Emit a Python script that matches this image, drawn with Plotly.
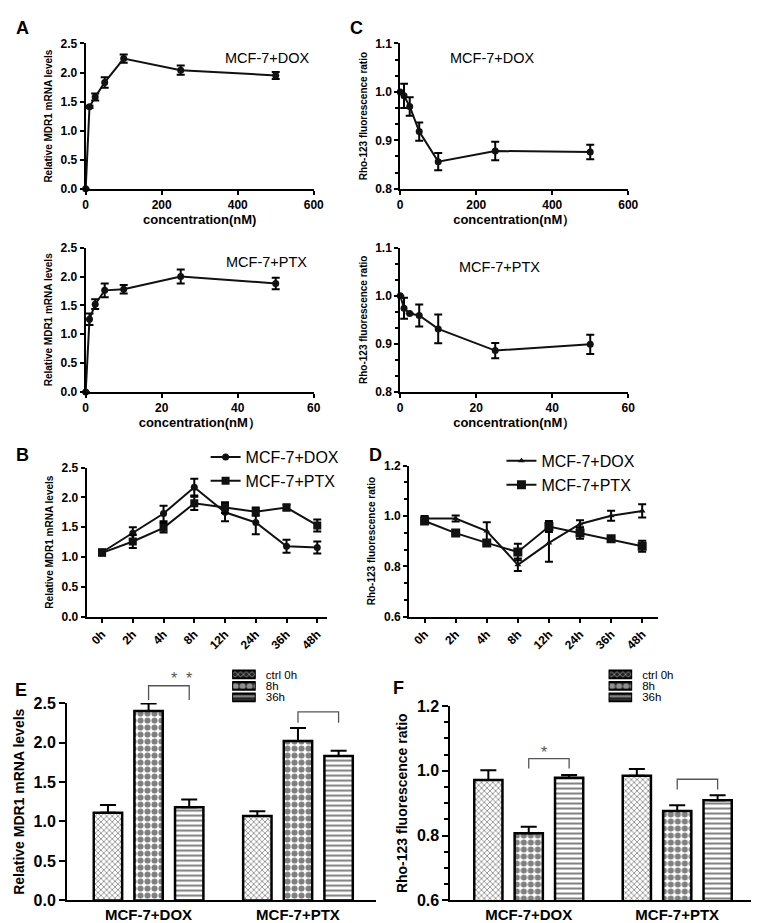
import plotly.graph_objects as go

# ===== data =====
conc_dox = [0, 10, 25, 50, 100, 250, 500]
conc_ptx = [0, 1, 2.5, 5, 10, 25, 50]

mdr1_dox = [0.0, 1.41, 1.58, 1.83, 2.24, 2.04, 1.95]
mdr1_dox_err = [0.0, 0.02, 0.06, 0.09, 0.07, 0.08, 0.06]
mdr1_ptx = [0.0, 1.26, 1.52, 1.76, 1.78, 2.00, 1.88]
mdr1_ptx_err = [0.0, 0.10, 0.085, 0.12, 0.075, 0.12, 0.10]

rho_dox = [1.0, 0.992, 0.970, 0.918, 0.856, 0.878, 0.876]
rho_dox_err = [0.0, 0.025, 0.019, 0.019, 0.018, 0.019, 0.015]
rho_ptx = [1.0, 0.974, 0.963, 0.959, 0.931, 0.886, 0.899]
rho_ptx_err = [0.0, 0.022, 0.0, 0.023, 0.030, 0.016, 0.020]

time_labels = ['0h', '2h', '4h', '8h', '12h', '24h', '36h', '48h']
t_mdr1_dox = [1.08, 1.40, 1.73, 2.17, 1.75, 1.58, 1.18, 1.16]
t_mdr1_dox_err = [0.05, 0.10, 0.13, 0.14, 0.15, 0.20, 0.11, 0.10]
t_mdr1_ptx = [1.07, 1.26, 1.49, 1.90, 1.83, 1.76, 1.83, 1.53]
t_mdr1_ptx_err = [0.04, 0.11, 0.08, 0.11, 0.09, 0.07, 0.05, 0.10]
t_rho_dox = [0.99, 0.99, 0.94, 0.806, 0.893, 0.968, 1.001, 1.02]
t_rho_dox_err = [0.01, 0.012, 0.035, 0.025, 0.075, 0.015, 0.02, 0.026]
t_rho_ptx = [0.98, 0.932, 0.893, 0.857, 0.958, 0.932, 0.909, 0.88]
t_rho_ptx_err = [0.01, 0.006, 0.008, 0.033, 0.022, 0.023, 0.006, 0.022]

groups = ['MCF-7+DOX', 'MCF-7+PTX']
bar_names = ['ctrl 0h', '8h', '36h']
bar_mdr1 = [[1.11, 1.07], [2.40, 2.02], [1.18, 1.83]]
bar_mdr1_err = [[0.10, 0.06], [0.095, 0.165], [0.10, 0.065]]
bar_rho = [[0.972, 0.985], [0.807, 0.876], [0.979, 0.909]]
bar_rho_err = [[0.03, 0.021], [0.02, 0.018], [0.008, 0.016]]

FONT = 'Liberation Sans'
W, H = 759, 923


def px_x(p):
    return p / W


def px_y(p):
    return 1 - p / H


def ax(**kw):
    base = dict(showline=True, linecolor='black', linewidth=2, ticks='outside',
                ticklen=4, tickwidth=2, tickcolor='black', showgrid=False,
                zeroline=False, mirror=False,
                tickfont=dict(family=FONT, size=12, color='black', weight='bold'))
    base.update(kw)
    return base


def title(text, size=10, standoff=6):
    return dict(text=text, standoff=standoff,
                font=dict(family=FONT, size=size, color='black', weight='bold'))


fig = go.Figure()

err = dict(type='data', color='black', thickness=2, width=4)

# ===== A / C : dose response =====
for xa, ya, xs, ys, es in [('x', 'y', conc_dox, mdr1_dox, mdr1_dox_err),
                           ('x2', 'y2', conc_ptx, mdr1_ptx, mdr1_ptx_err),
                           ('x3', 'y3', conc_dox, rho_dox, rho_dox_err),
                           ('x4', 'y4', conc_ptx, rho_ptx, rho_ptx_err)]:
    fig.add_trace(go.Scatter(
        x=xs, y=ys, xaxis=xa, yaxis=ya, mode='lines+markers',
        line=dict(color='#111', width=2), marker=dict(size=7, color='#111'),
        error_y=dict(array=es, **err), cliponaxis=False, showlegend=False))

# ===== B / D : time course =====
fig.add_trace(go.Scatter(
    x=time_labels, y=t_mdr1_dox, xaxis='x5', yaxis='y5', name='MCF-7+DOX',
    mode='lines+markers', line=dict(color='#111', width=2),
    marker=dict(symbol='circle', size=7, color='#111'),
    error_y=dict(array=t_mdr1_dox_err, **err), legend='legend'))
fig.add_trace(go.Scatter(
    x=time_labels, y=t_mdr1_ptx, xaxis='x5', yaxis='y5', name='MCF-7+PTX',
    mode='lines+markers', line=dict(color='#111', width=2),
    marker=dict(symbol='square', size=8, color='#111'),
    error_y=dict(array=t_mdr1_ptx_err, **err), legend='legend'))
fig.add_trace(go.Scatter(
    x=time_labels, y=t_rho_dox, xaxis='x6', yaxis='y6', name='MCF-7+DOX',
    mode='lines+markers', line=dict(color='#111', width=2),
    marker=dict(symbol='triangle-up', size=6, color='#111'),
    error_y=dict(array=t_rho_dox_err, **err), legend='legend2'))
fig.add_trace(go.Scatter(
    x=time_labels, y=t_rho_ptx, xaxis='x6', yaxis='y6', name='MCF-7+PTX',
    mode='lines+markers', line=dict(color='#111', width=2),
    marker=dict(symbol='square', size=9, color='#111'),
    error_y=dict(array=t_rho_ptx_err, **err), legend='legend2'))

# ===== E / F : bars =====
patterns = [dict(shape='x', size=4, solidity=0.35),
            dict(shape='.', size=7, solidity=0.6),
            dict(shape='-', size=5, solidity=0.4)]
slot = 0.272
bw = 0.19
for i, name in enumerate(bar_names):
    pat = dict(fgcolor='black', bgcolor='white', **patterns[i])
    for xa, ya, vals, errs in [('x7', 'y7', bar_mdr1[i], bar_mdr1_err[i]),
                               ('x8', 'y8', bar_rho[i], bar_rho_err[i])]:
        fig.add_trace(go.Bar(
            x=groups, y=vals, xaxis=xa, yaxis=ya, name=name,
            width=bw, offset=(i - 1) * slot - bw / 2,
            marker=dict(color='white', pattern=pat,
                        line=dict(color='black', width=2.5)),
            error_y=dict(type='data', array=errs, arrayminus=[0, 0],
                         symmetric=False, color='black', thickness=2, width=8),
            showlegend=False))
    # legend swatches drawn on small helper axes
    for xa, ya in [('x9', 'y9'), ('x10', 'y10')]:
        fig.add_trace(go.Bar(
            x=[1], y=[name], orientation='h', xaxis=xa, yaxis=ya,
            width=0.68, offset=-0.34,
            marker=dict(color='#333', pattern=dict(fgcolor='white', bgcolor='#222',
                                                   **patterns[i]),
                        line=dict(color='black', width=2)),
            showlegend=False))

# ===== axes =====
dA1 = dict(x=[px_x(76), px_x(308)], y=[px_y(176), px_y(28)])
dA2 = dict(x=[px_x(76), px_x(308)], y=[px_y(383), px_y(236)])
dC1 = dict(x=[px_x(396), px_x(628)], y=[px_y(176), px_y(28)])
dC2 = dict(x=[px_x(396), px_x(628)], y=[px_y(383), px_y(236)])
dB = dict(x=[px_x(77), px_x(321)], y=[px_y(612), px_y(460)])
dD = dict(x=[px_x(405), px_x(658)], y=[px_y(612), px_y(458)])
dE = dict(x=[px_x(57), px_x(371)], y=[px_y(901), px_y(700)])
dF = dict(x=[px_x(447), px_x(757)], y=[px_y(901), px_y(703)])
rE = [-0.546, 1.52]
rF = [-0.528, 1.524]
yE = [0, 2.5]
yF = [0.6, 1.2]

mdr_title = 'Relative MDR1 mRNA levels'
rho_title = 'Rho-123 fluorescence ratio'


def leg_axis(side_dom):
    return dict(domain=side_dom, side='right', autorange='reversed',
                showline=False, ticks='', showgrid=False, ticklabelstandoff=9,
                tickmode='array', tickvals=bar_names, ticktext=bar_names,
                tickfont=dict(family=FONT, size=11.5, color='black'))


layout = dict(
    xaxis=ax(domain=dA1['x'], anchor='y', range=[0, 600], dtick=200,
             title=title('concentration(nM)', 13, 4)),
    yaxis=ax(domain=dA1['y'], anchor='x', range=[0, 2.5], dtick=0.5,
             tickformat='.1f', title=title(mdr_title, 10, 6)),
    xaxis2=ax(domain=dA2['x'], anchor='y2', range=[0, 60], dtick=20,
              title=title('concentration(nM）', 13, 4)),
    yaxis2=ax(domain=dA2['y'], anchor='x2', range=[0, 2.5], dtick=0.5,
              tickformat='.1f', title=title(mdr_title, 10, 6)),
    xaxis3=ax(domain=dC1['x'], anchor='y3', range=[0, 600], dtick=200,
              title=title('concentration(nM）', 13, 4)),
    yaxis3=ax(domain=dC1['y'], anchor='x3', range=[0.8, 1.1], dtick=0.1,
              tickformat='.1f', title=title(rho_title, 10, 6),
              minor=dict(ticks='outside', dtick=0.1 / 3, tick0=0.8, ticklen=3,
                         tickwidth=1.5, tickcolor='black')),
    xaxis4=ax(domain=dC2['x'], anchor='y4', range=[0, 60], dtick=20,
              title=title('concentration(nM）', 13, 4)),
    yaxis4=ax(domain=dC2['y'], anchor='x4', range=[0.8, 1.1], dtick=0.1,
              tickformat='.1f', title=title(rho_title, 10, 6),
              minor=dict(ticks='outside', dtick=0.1 / 3, tick0=0.8, ticklen=3,
                         tickwidth=1.5, tickcolor='black')),
    xaxis5=ax(domain=dB['x'], anchor='y5', range=[-0.5, 7.3], tickangle=-45),
    yaxis5=ax(domain=dB['y'], anchor='x5', range=[0, 2.5], dtick=0.5,
              tickformat='.1f', title=title(mdr_title, 10, 6)),
    xaxis6=ax(domain=dD['x'], anchor='y6', range=[-0.5, 7.5], tickangle=-45),
    yaxis6=ax(domain=dD['y'], anchor='x6', range=[0.6, 1.2], dtick=0.2,
              tickformat='.1f', title=title(rho_title, 10, 6),
              minor=dict(ticks='outside', dtick=0.2 / 3, tick0=0.6, ticklen=3,
                         tickwidth=1.5, tickcolor='black')),
    xaxis7=ax(domain=dE['x'], anchor='y7', range=rE, ticks='',
              tickfont=dict(family=FONT, size=15, color='black', weight='bold')),
    yaxis7=ax(domain=dE['y'], anchor='x7', range=yE, dtick=0.5, ticklen=6,
              tickformat='.1f', title=title(mdr_title, 14, 6),
              tickfont=dict(family=FONT, size=16, color='black', weight='bold')),
    xaxis8=ax(domain=dF['x'], anchor='y8', range=rF, ticks='',
              tickfont=dict(family=FONT, size=15, color='black', weight='bold')),
    yaxis8=ax(domain=dF['y'], anchor='x8', range=yF, dtick=0.2, ticklen=6,
              tickformat='.1f', title=title(rho_title, 14, 6),
              tickfont=dict(family=FONT, size=16, color='black', weight='bold'),
              minor=dict(ticks='outside', dtick=0.05, tick0=0.6, ticklen=4,
                         tickwidth=1.5, tickcolor='black')),
    xaxis9=dict(domain=[px_x(225), px_x(249)], anchor='y9', range=[0, 1],
                visible=False, fixedrange=True),
    yaxis9=dict(anchor='x9', **leg_axis([px_y(700), px_y(665)])),
    xaxis10=dict(domain=[px_x(608), px_x(632)], anchor='y10', range=[0, 1],
                 visible=False, fixedrange=True),
    yaxis10=dict(anchor='x10', **leg_axis([px_y(700), px_y(665)])),
)


def to_paper(v, dom, rng):
    return dom[0] + (v - rng[0]) / (rng[1] - rng[0]) * (dom[1] - dom[0])


# significance brackets: (panel, x0, x1, bottom, top)
brackets = [('E', 0.0, slot, 2.54, 2.72), ('E', 1.0, 1 + slot, 2.25, 2.39),
            ('F', 0.0, slot, 1.007, 1.038), ('F', 1.0, 1 + slot, 0.942, 0.974)]
shapes = []
for pan, x0, x1, yb, yt in brackets:
    dom, rx, ry = (dE, rE, yE) if pan == 'E' else (dF, rF, yF)
    X0, X1 = to_paper(x0, dom['x'], rx), to_paper(x1, dom['x'], rx)
    YB, YT = to_paper(yb, dom['y'], ry), to_paper(yt, dom['y'], ry)
    shapes.append(dict(type='path', xref='paper', yref='paper',
                       path=f'M {X0},{YB} L {X0},{YT} L {X1},{YT} L {X1},{YB}',
                       line=dict(color='#555', width=1.3)))

annotations = []
# panel letters
for txt, x, y in [('A', 3, 12), ('C', 343, 12), ('B', 3, 447), ('D', 362, 447),
                  ('E', 2, 687), ('F', 387, 685)]:
    annotations.append(dict(text=txt, x=px_x(x), y=px_y(y), xref='paper', yref='paper',
                            xanchor='left', yanchor='middle', showarrow=False,
                            font=dict(family=FONT, size=18, color='black', weight='bold')))
# panel labels
for txt, x, y in [('MCF-7+DOX', 216, 33), ('MCF-7+PTX', 217, 240),
                  ('MCF-7+DOX', 535, 33), ('MCF-7+PTX', 540, 246)]:
    annotations.append(dict(text=txt, x=px_x(x), y=px_y(y), xref='paper', yref='paper',
                            showarrow=False,
                            font=dict(family=FONT, size=14.5, color='black')))
# stars
annotations.append(dict(text='*  *', x=to_paper(slot / 2, dE['x'], rE),
                        y=to_paper(2.68, dE['y'], yE), xref='paper', yref='paper',
                        showarrow=False, font=dict(family=FONT, size=16, color='#555')))
annotations.append(dict(text='*', x=to_paper(slot / 2, dF['x'], rF),
                        y=to_paper(1.024, dF['y'], yF), xref='paper', yref='paper',
                        showarrow=False, font=dict(family=FONT, size=16, color='#555')))

leg = dict(xanchor='left', yanchor='top', bgcolor='rgba(0,0,0,0)',
           font=dict(family=FONT, size=16, color='black'), tracegroupgap=0,
           itemwidth=30)
fig.update_layout(
    **layout,
    width=W, height=H,
    margin=dict(l=0, r=0, t=0, b=0),
    paper_bgcolor='white', plot_bgcolor='white',
    barmode='overlay',
    showlegend=True,
    legend=dict(x=px_x(198), y=px_y(432), **leg),
    legend2=dict(x=px_x(499), y=px_y(436), **leg),
    shapes=shapes, annotations=annotations,
    font=dict(family=FONT, color='black'),
)

fig.write_html('out.html')
